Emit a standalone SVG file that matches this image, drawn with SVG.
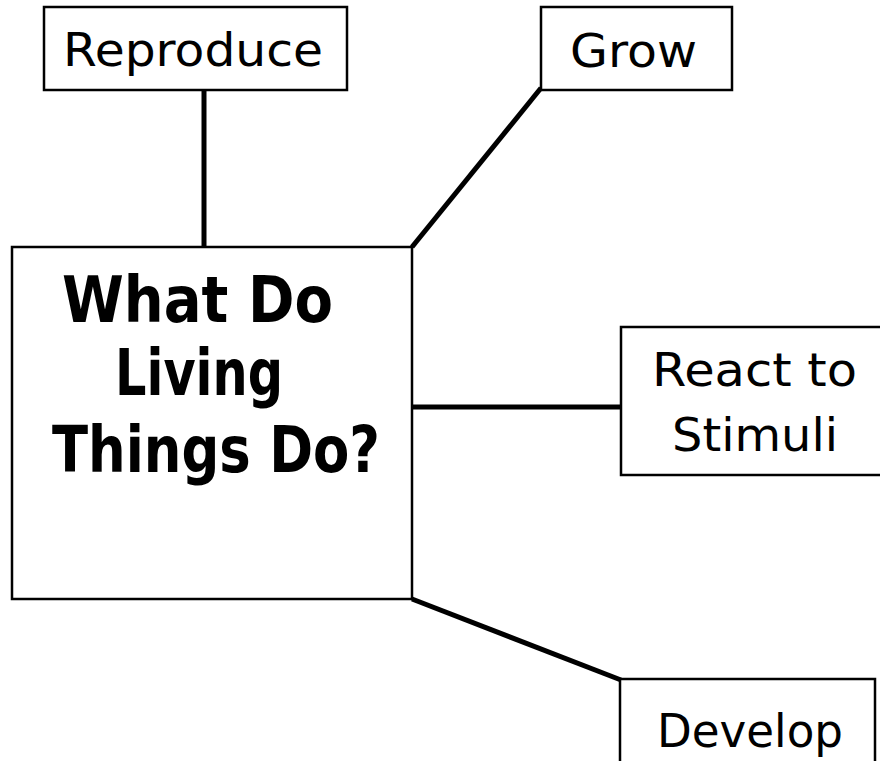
<svg xmlns="http://www.w3.org/2000/svg" width="880" height="761" viewBox="0 0 880 761">
  <style>
    .box { fill: #fff; stroke: #000; stroke-width: 2.5; }
    .link { stroke: #000; stroke-width: 5; fill: none; }
    .lbl { font-family: "DejaVu Sans", "Noto Sans", sans-serif; font-size: 46px; fill: #000; }
    .title { font-family: "DejaVu Sans", "Noto Sans", sans-serif; font-size: 64px; font-weight: bold; fill: #000; }
  </style>
  <rect width="880" height="761" fill="#fff"/>

  <g id="connectors">
    <line class="link" x1="204" y1="89" x2="204" y2="247"/>
    <line class="link" x1="541" y1="88" x2="412" y2="247"/>
    <line class="link" x1="412" y1="407" x2="622" y2="407"/>
    <line class="link" x1="412" y1="599" x2="621" y2="680"/>
  </g>

  <g id="center">
    <rect class="box" x="12" y="247" width="400" height="352"/>
    <text class="title" x="62" y="322" textLength="271" lengthAdjust="spacingAndGlyphs">What Do</text>
    <text class="title" x="115" y="395" textLength="168" lengthAdjust="spacingAndGlyphs">Living</text>
    <text class="title" x="52" y="472" textLength="328" lengthAdjust="spacingAndGlyphs">Things Do?</text>
  </g>

  <g id="reproduce">
    <rect class="box" x="44" y="7" width="303" height="83"/>
    <text class="lbl" x="63" y="66" textLength="260" lengthAdjust="spacingAndGlyphs">Reproduce</text>
  </g>

  <g id="grow">
    <rect class="box" x="541" y="7" width="191" height="83"/>
    <text class="lbl" x="570" y="67" textLength="127" lengthAdjust="spacingAndGlyphs">Grow</text>
  </g>

  <g id="react">
    <rect class="box" x="621" y="327" width="262" height="148"/>
    <text class="lbl" x="652" y="386" textLength="205" lengthAdjust="spacingAndGlyphs">React to</text>
    <text class="lbl" x="672" y="451" textLength="166" lengthAdjust="spacingAndGlyphs">Stimuli</text>
  </g>

  <g id="develop">
    <rect class="box" x="620" y="679" width="255" height="100"/>
    <text class="lbl" x="657" y="747" textLength="186" lengthAdjust="spacingAndGlyphs">Develop</text>
  </g>
</svg>
